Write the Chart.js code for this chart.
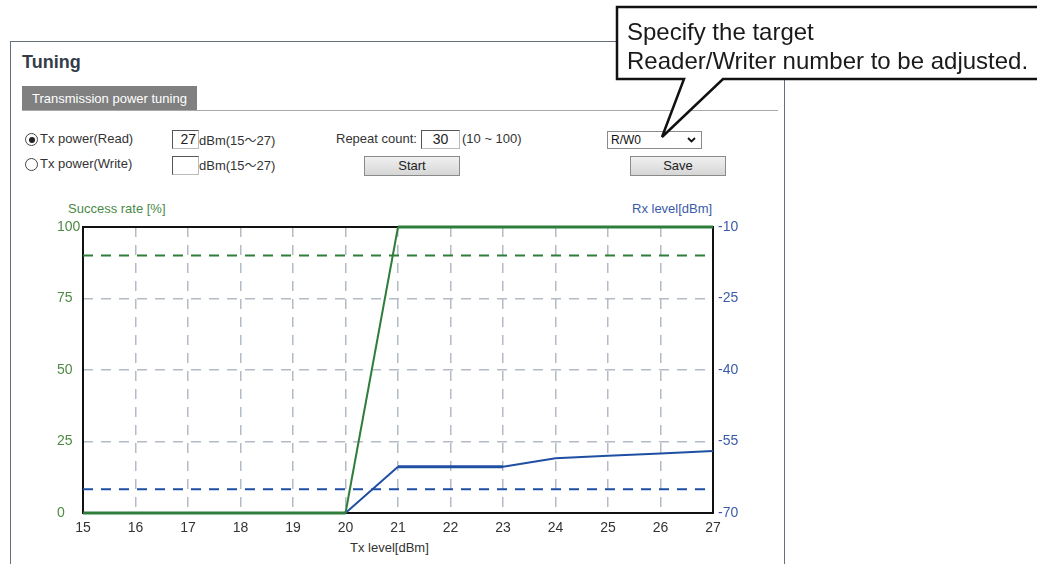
<!DOCTYPE html>
<html>
<head>
<meta charset="utf-8">
<script src="https://cdn.jsdelivr.net/npm/chart.js@4.4.0/dist/chart.umd.min.js"></script>
<style>
  html, body { margin: 0; padding: 0; background: #fff; }
  body { width: 1037px; height: 564px; position: relative; overflow: hidden;
         font-family: "Liberation Sans", Arial, sans-serif; color: #333; font-size: 13px; }
  .abs { position: absolute; white-space: nowrap; }
  .wave { font-family: "Noto Sans CJK JP", sans-serif; font-size: 12px; }
  .panel-top { left: 10px; top: 41px; width: 610px; height: 0; border-top: 1px solid #666f7c; }
  .panel-left { left: 10px; top: 41px; width: 0; height: 530px; border-left: 1px solid #666f7c; }
  .panel-right { left: 784px; top: 78px; width: 0; height: 500px; border-left: 1px solid #666f7c; }
  .title { left: 22px; top: 52px; font-size: 18px; font-weight: bold; color: #333d4a; }
  .tab { left: 22px; top: 86px; width: 175px; height: 25px; background: #808080; color: #fff;
         font-size: 13px; line-height: 25px; text-indent: 10px; }
  .tabline { left: 22px; top: 110px; width: 756px; height: 0; border-top: 1px solid #a8a8a8; }
  .radio { width: 11px; height: 11px; border: 1px solid #444; border-radius: 50%; background: #fff; }
  .radio.on::after { content: ""; position: absolute; left: 2.5px; top: 2.5px; width: 6px; height: 6px;
                     border-radius: 50%; background: #222; }
  .field { height: 17px; border: 1px solid #bbb; border-top-color: #555; border-left-color: #555;
           background: #fff; font-size: 14px; line-height: 17px; color: #222; }
  .btn { height: 18px; border: 1px solid #8a8a8a; background: linear-gradient(#f0f0f0, #d6d6d6);
         text-align: center; font-size: 13px; line-height: 18px; color: #222; }
  .sel { height: 16px; border: 1px solid #8a8a8a; background: #fff; font-size: 12px; line-height: 16px;
         color: #111; text-indent: 3px; }
  #chartBox { position: absolute; left: 30px; top: 200px; width: 740px; height: 360px; }
</style>
</head>
<body>

<div class="abs panel-top"></div>
<div class="abs panel-left"></div>
<div class="abs panel-right"></div>

<div class="abs title">Tuning</div>
<div class="abs tab">Transmission power tuning</div>
<div class="abs tabline"></div>

<!-- row 1 -->
<div class="abs radio on" style="left:25px; top:133px;"></div>
<div class="abs" style="left:40px; top:131px;">Tx power(Read)</div>
<div class="abs field" style="left:172px; top:130px; width:23px; text-align:right; padding-right:2px;">27</div>
<div class="abs" style="left:199px; top:131px;">dBm(15<span class="wave">～</span>27)</div>
<div class="abs" style="left:336px; top:131px;">Repeat count:</div>
<div class="abs field" style="left:421px; top:130px; width:37px; text-align:center;">30</div>
<div class="abs" style="left:462px; top:131px;">(10 ~ 100)</div>
<div class="abs sel" style="left:607px; top:131px; width:93px;">R/W0
  <svg style="position:absolute; right:5px; top:5px;" width="9" height="6"><polyline points="1,1 4.5,4.5 8,1" fill="none" stroke="#111" stroke-width="1.8"/></svg>
</div>

<!-- row 2 -->
<div class="abs radio" style="left:25px; top:158px;"></div>
<div class="abs" style="left:40px; top:156px;">Tx power(Write)</div>
<div class="abs field" style="left:172px; top:156px; width:25px;"></div>
<div class="abs" style="left:199px; top:156px;">dBm(15<span class="wave">～</span>27)</div>
<div class="abs btn" style="left:364px; top:156px; width:94px;">Start</div>
<div class="abs btn" style="left:630px; top:156px; width:94px;">Save</div>

<!-- chart axis titles -->
<div class="abs" style="left:68px; top:201px; color:#4a8a47;">Success rate [%]</div>
<div class="abs" style="left:632px; top:201px; color:#3b5ba8;">Rx level[dBm]</div>
<div class="abs" style="left:350px; top:540px; color:#333;">Tx level[dBm]</div>

<div id="chartBox"><canvas id="tuneChart"></canvas></div>

<!-- callout -->
<svg class="abs" style="left:0; top:0;" width="1037" height="564">
  <path d="M617,7 H1050 V79 H723 L662,137 L684,79 H617 Z" fill="#fff" stroke="#111" stroke-width="2.5" stroke-linejoin="miter"/>
</svg>
<div class="abs" style="left:627px; top:17px; font-size:24px; line-height:29px; color:#1a1a1a;">Specify the target<br>Reader/Writer number to be adjusted.</div>

<script>
// Tx level categories (x axis)
const txLevels = ['15', '16', '17', '18', '19', '20', '21', '22', '23', '24', '25', '26', '27'];

// Success rate [%] per Tx level
const successRate = [0, 0, 0, 0, 0, 0, 100, 100, 100, 100, 100, 100, 100];

// Rx level [dBm] per Tx level
const rxLevel = [-70, -70, -70, -70, -70, -70, -60.3, -60.3, -60.3, -58.5, -58, -57.5, -57];

// Threshold lines
const successThreshold = 90;
const rxThreshold = -65;

// Axis ticks
const successTicks = [0, 25, 50, 75, 100];
const rxTicks = [-70, -55, -40, -25, -10];

const green = '#2f7d3b';
const blue = '#1f4fa3';
const gridGray = '#b3bcc6';

// black frame round the plot area, under the lines
const framePlugin = {
    id: 'frame',
    beforeDatasetsDraw(chart) {
        const { ctx, chartArea: a } = chart;
        ctx.save();
        ctx.strokeStyle = '#111';
        ctx.lineWidth = 2;
        ctx.strokeRect(a.left, a.top, a.right - a.left, a.bottom - a.top);
        ctx.restore();
    }
};

const ctx = document.getElementById('tuneChart').getContext('2d');
new Chart(ctx, {
    type: 'line',
    data: {
        labels: txLevels,
        datasets: [
            {
                label: 'Success rate',
                data: successRate,
                yAxisID: 'y',
                borderColor: green,
                borderWidth: 3,
                pointRadius: 0,
                tension: 0,
                clip: 4,
                segment: { borderWidth: (c) => (c.p0DataIndex === 5 ? 2 : 3) }
            },
            {
                label: 'Rx level',
                data: rxLevel,
                yAxisID: 'y2',
                borderColor: blue,
                borderWidth: 2,
                pointRadius: 0,
                tension: 0,
                clip: 4,
                segment: { borderWidth: (c) => (c.p0DataIndex === 6 || c.p0DataIndex === 7 ? 3 : 2) }
            },
            {
                label: 'Success threshold',
                data: [{ x: txLevels[0], y: successThreshold }, { x: txLevels[txLevels.length - 1], y: successThreshold }],
                yAxisID: 'y',
                borderColor: green,
                borderWidth: 2,
                borderDash: [10, 8],
                pointRadius: 0
            },
            {
                label: 'Rx threshold',
                data: [{ x: txLevels[0], y: rxThreshold }, { x: txLevels[txLevels.length - 1], y: rxThreshold }],
                yAxisID: 'y2',
                borderColor: blue,
                borderWidth: 2,
                borderDash: [10, 8],
                pointRadius: 0
            }
        ]
    },
    options: {
        responsive: true,
        maintainAspectRatio: false,
        animation: false,
        layout: { padding: { left: 27, top: 27, right: 0, bottom: 0 } },
        plugins: { legend: { display: false }, tooltip: { enabled: false } },
        scales: {
            x: {
                offset: false,
                afterFit: (s) => { s.height = 47; },
                grid: { color: gridGray, lineWidth: 1.5, drawTicks: false },
                border: { display: false, dash: [10, 8] },
                ticks: { color: '#333', font: { family: 'Liberation Sans', size: 14 }, padding: 7, maxRotation: 0 }
            },
            y: {
                position: 'left',
                min: successTicks[0],
                max: successTicks[successTicks.length - 1],
                afterFit: (s) => { s.width = 26; },
                afterBuildTicks: (s) => { s.ticks = successTicks.map((v) => ({ value: v })); },
                grid: { color: gridGray, lineWidth: 1.5, drawTicks: false },
                border: { display: false, dash: [10, 8] },
                ticks: { color: '#4f8a45', font: { family: 'Liberation Sans', size: 14 }, crossAlign: 'far', padding: 0 }
            },
            y2: {
                position: 'right',
                min: rxTicks[0],
                max: rxTicks[rxTicks.length - 1],
                afterFit: (s) => { s.width = 57; },
                afterBuildTicks: (s) => { s.ticks = rxTicks.map((v) => ({ value: v })); },
                grid: { display: false, drawTicks: false },
                border: { display: false },
                ticks: { color: '#3b5ba8', font: { family: 'Liberation Sans', size: 14 }, padding: 5 }
            }
        }
    },
    plugins: [framePlugin]
});
</script>
</body>
</html>
